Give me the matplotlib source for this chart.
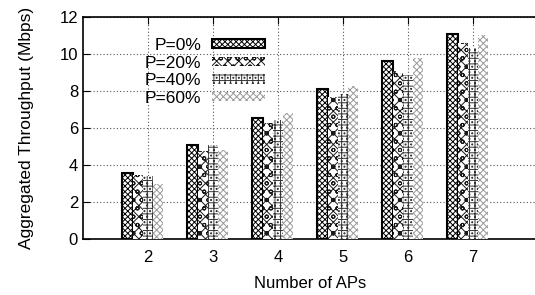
import matplotlib
matplotlib.use("Agg")
import matplotlib.pyplot as plt
import numpy as np

plt.rcParams['font.family'] = ['Liberation Sans', 'DejaVu Sans']
plt.rcParams['hatch.linewidth'] = 0.7

aps = [2, 3, 4, 5, 6, 7]
labels = ['P=0%', 'P=20%', 'P=40%', 'P=60%']
p0 = [3.56, 5.09, 6.51, 8.09, 9.60, 11.06]
p20 = [3.48, 4.73, 6.24, 7.68, 9.08, 10.56]
p40 = [3.39, 5.10, 6.42, 7.85, 8.87, 10.33]
p60 = [2.99, 4.82, 6.82, 8.27, 9.75, 11.01]
series = [p0, p20, p40, p60]

hatches = ['xxxxxx', 'ooxxx', '...+++', 'xxxxx']
hcolors = ['black', '#1a1a1a', '#333333', '#999999']

fig = plt.figure(figsize=(5.35, 2.95), dpi=100)
ax = fig.add_axes([0.155, 0.19, 0.8506, 0.753])

w = 0.158
x = np.array(aps, dtype=float)
for i, vals in enumerate(series):
    pos = x + (i - 2) * w
    if i == 0:
        ax.bar(pos, vals, w, color='white', edgecolor='black', hatch=hatches[i],
               linewidth=1.5, label=labels[i], zorder=3)
    else:
        ax.bar(pos, vals, w, color='white', edgecolor=hcolors[i], hatch=hatches[i],
               linewidth=0, label=labels[i], zorder=3)

ax.set_xlim(1, 8)
ax.set_ylim(0, 12)
ax.set_xticks(aps)
ax.set_yticks(range(0, 13, 2))
ax.tick_params(direction='in', length=5, labelsize=12, top=True, right=False)
ax.tick_params(axis='x', pad=8)
ax.grid(True, linestyle=(0, (1, 2)), color='#555555', linewidth=0.8, zorder=0)
ax.set_axisbelow(True)
for s in ax.spines.values():
    s.set_linewidth(1.2)
ax.spines['right'].set_visible(False)

ax.set_xlabel('Number of APs', fontsize=12, labelpad=8)
ax.set_ylabel('Aggregated Throughput (Mbps)', fontsize=12.5, labelpad=18)

ax.legend(loc='upper right', bbox_to_anchor=(0.4, 0.905), frameon=False, markerfirst=False,
          fontsize=12.5, handlelength=3.05, handleheight=0.46, labelspacing=0.15,
          handletextpad=0.6, borderaxespad=0, borderpad=0)

fig.savefig('out.png', dpi=100)
